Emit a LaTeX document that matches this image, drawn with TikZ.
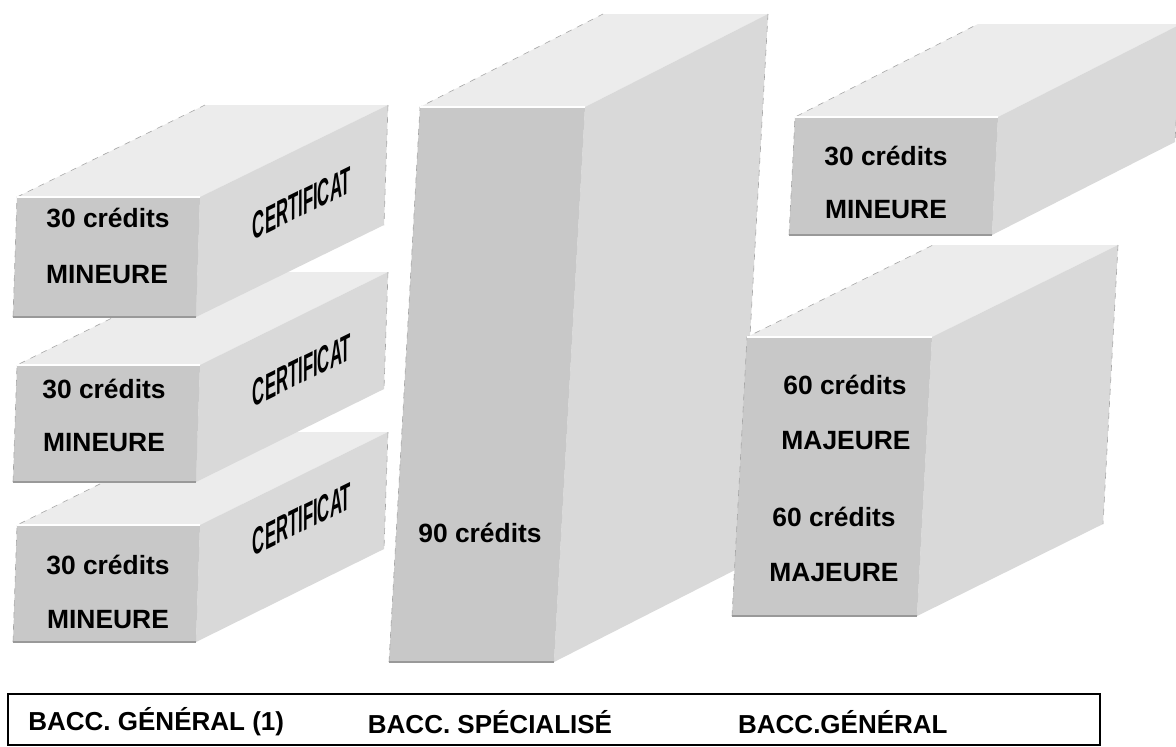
\documentclass[tikz,border=0pt]{standalone}
\usepackage{fontspec}
\setmainfont{Liberation Sans}
\usetikzlibrary{calc}

\definecolor{avant}{RGB}{200,200,200}
\definecolor{cote}{RGB}{217,217,217}
\definecolor{dessus}{RGB}{236,236,236}

% brique : x, y du coin avant haut gauche, largeur, hauteur, inclinaison, profondeur dx, dy
\newcommand{\brique}[7]{%
  \coordinate (ha) at (#1,#2);
  \coordinate (hb) at ($(ha)+(#3,0)$);
  \coordinate (bb) at ($(hb)+(#5,#4)$);
  \coordinate (ba) at ($(ha)+(#5,#4)$);
  \coordinate (hc) at ($(ha)+(#6,#7)$);
  \coordinate (hd) at ($(hb)+(#6,#7)$);
  \coordinate (bd) at ($(bb)+(#6,#7)$);
  \fill[dessus] (ha) -- (hc) -- (hd) -- (hb) -- cycle;
  \fill[cote] (hb) -- (hd) -- (bd) -- (bb) -- cycle;
  \fill[avant] (ha) -- (hb) -- (bb) -- (ba) -- cycle;
  \draw[arete] (ba) -- (ha) -- (hc);
  \draw[arete] (hd) -- (bd);
  \draw[white, line width=1pt] (ha) -- (hb);
  \draw[gray!80, line width=0.6pt] (ba) -- (bb);
}

\tikzset{
  arete/.style={gray!70, line width=0.3pt, dashed},
  etiquette/.style={font=\fontsize{13.2}{15}\selectfont\bfseries},
  certif/.style={font=\fontsize{19}{20}\selectfont\bfseries, cm={0.44,0.216,0,1,(0,0)}},
  bacc/.style={font=\fontsize{13}{15}\selectfont\bfseries, inner sep=0pt},
  cadre/.style={draw=black, line width=1.3pt}
}

\begin{document}
\begin{tikzpicture}[x=0.5pt, y=-0.5pt]
  \useasboundingbox (0,0) rectangle (1176,746);
  \fill[white] (0,0) rectangle (1176,746);
  \clip (0,0) rectangle (1176,746);

  % colonne de gauche (du bas vers le haut)
  \brique{17}{525}{183}{117}{-4}{188}{-93}
  \brique{17}{365}{183}{117}{-4}{188}{-93}
  \brique{17}{197}{183}{120}{-4}{188}{-92}

  % colonne du milieu
  \brique{420}{107}{165}{555}{-31}{183}{-93}

  % colonne de droite
  \brique{795}{117}{203}{118}{-6}{183}{-93}
  \brique{747}{337}{185}{279}{-15}{186}{-92}

  % textes
  \node[etiquette] (cr1) at (108,218) {30 crédits};
  \node[etiquette] (min1) at (107,275) {MINEURE};
  \node[certif] (cert1) at (302,203) {CERTIFICAT};

  \node[etiquette] (cr2) at (104,389) {30 crédits};
  \node[etiquette] (min2) at (104,443) {MINEURE};
  \node[certif] (cert2) at (302,370) {CERTIFICAT};

  \node[etiquette] (cr3) at (108,565) {30 crédits};
  \node[etiquette] (min3) at (108,620) {MINEURE};
  \node[certif] (cert3) at (302,519) {CERTIFICAT};

  \node[etiquette] (cr90) at (480,533) {90 crédits};

  \node[etiquette] (cr4) at (886,156) {30 crédits};
  \node[etiquette] (min4) at (886,210) {MINEURE};

  \node[etiquette] (cr60a) at (845,385) {60 crédits};
  \node[etiquette] (maj1) at (846,441) {MAJEURE};
  \node[etiquette] (cr60b) at (834,517) {60 crédits};
  \node[etiquette] (maj2) at (834,573) {MAJEURE};

  % cadre du bas
  \draw[cadre] (8,694) rectangle (1100,745);
  \node[bacc, anchor=west] (bg1) at (28,722) {BACC. GÉNÉRAL (1)};
  \node[bacc] (bs) at (490,722) {BACC. SPÉCIALISÉ};
  \node[bacc, anchor=east] (bg2) at (948,722) {BACC.GÉNÉRAL};
\end{tikzpicture}
\end{document}
